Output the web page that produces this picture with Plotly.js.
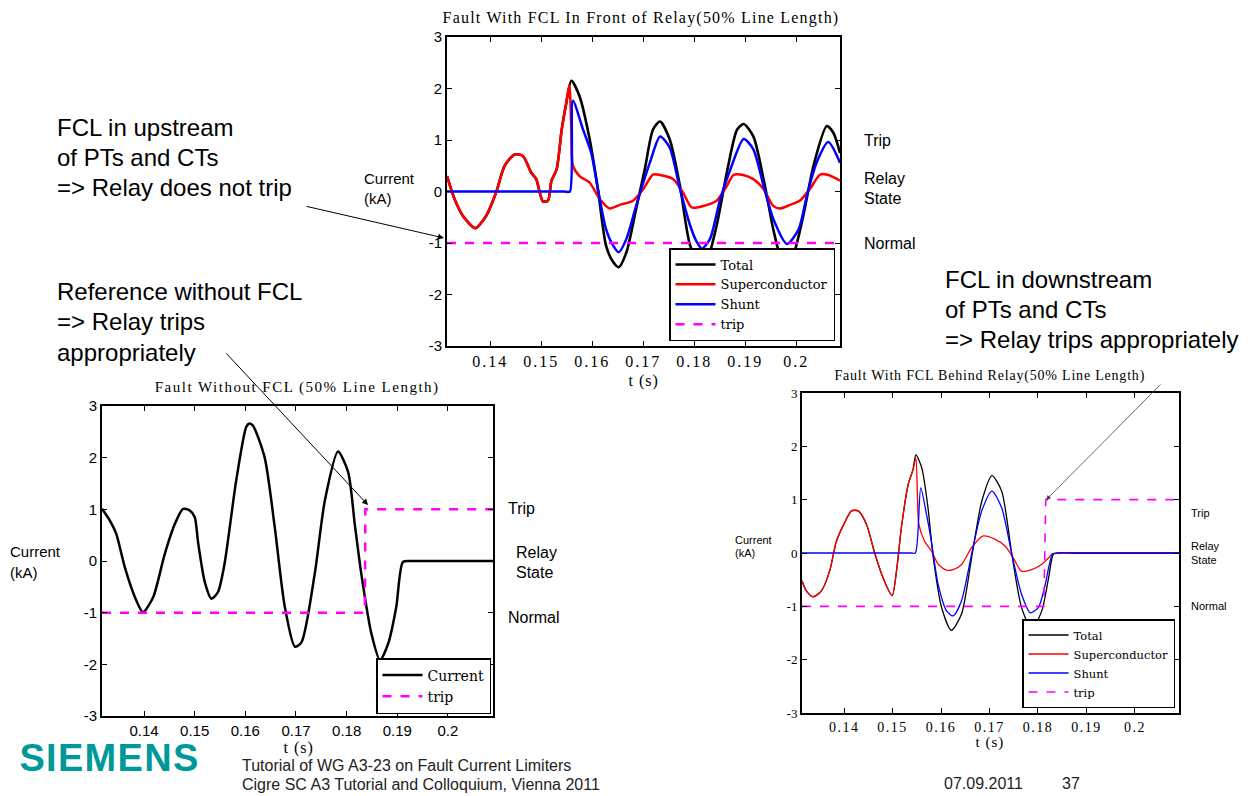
<!DOCTYPE html>
<html>
<head>
<meta charset="utf-8">
<script src="https://cdn.plot.ly/plotly-3.0.1.min.js"></script>
<style>
html,body{margin:0;padding:0;background:#fff;}
#chart{width:1260px;height:796px;}
g.xtick text{letter-spacing:2px;}
g.x3tick text{letter-spacing:1.5px;}
g.annotation[data-index="0"] text{letter-spacing:1.2px;}
g.annotation[data-index="1"] text{letter-spacing:1.5px;}
g.annotation[data-index="2"] text{letter-spacing:0.8px;}
g.annotation[data-index="3"] text, g.annotation[data-index="4"] text, g.annotation[data-index="5"] text{letter-spacing:1px;}
g.annotation[data-index="36"] text{letter-spacing:1.3px;}
</style>
</head>
<body>
<div id="chart"></div>
<script>
// ---------- DATA ----------
// Top chart: Fault With FCL In Front of Relay
const topTotalT = [0.1315,0.1330,0.1346,0.1366,0.1372,0.1392,0.1412,0.1428,0.1448,0.1464,0.1480,0.1490,0.1497,0.1503,0.1513,0.1520,0.1530,0.1540,0.1549,0.1559,0.1575,0.1595,0.1611,0.1627,0.1641,0.1652,0.1667,0.1686,0.1703,0.1719,0.1733,0.1752,0.1772,0.1792,0.1813,0.1824,0.1844,0.1864,0.1884,0.1897,0.1916,0.1936,0.1955,0.1968,0.1978,0.1994,0.2014,0.2034,0.2060,0.2073,0.2086];
const topTotalI = [0.30,-0.15,-0.47,-0.69,-0.71,-0.47,0,0.50,0.72,0.69,0.37,0.24,-0.02,-0.19,-0.18,0.21,0.43,1.20,1.72,2.15,1.85,1.01,0.05,-1.05,-1.37,-1.47,-1.18,-0.34,0.43,1.20,1.36,1.01,0.11,-1.05,-1.45,-1.37,-0.66,0.37,1.20,1.31,1.07,0.24,-0.73,-1.24,-1.43,-1.24,-0.47,0.50,1.27,1.14,0.75];
const topScT = [0.1315,0.1330,0.1346,0.1366,0.1372,0.1392,0.1412,0.1428,0.1448,0.1464,0.1480,0.1490,0.1497,0.1503,0.1513,0.1520,0.1530,0.1540,0.1549,0.1555,0.1559,0.1562,0.1575,0.1595,0.1615,0.1634,0.1654,0.1680,0.1700,0.1719,0.1733,0.1759,0.1778,0.1795,0.1818,0.1844,0.1864,0.1877,0.1896,0.1916,0.1936,0.1955,0.1968,0.1988,0.2007,0.2027,0.2047,0.2063,0.2086];
const topScI = [0.30,-0.15,-0.47,-0.69,-0.71,-0.47,0,0.50,0.72,0.69,0.37,0.24,-0.02,-0.19,-0.18,0.21,0.43,1.20,1.72,2.07,1.20,0.50,0.30,0.17,-0.15,-0.33,-0.26,-0.18,0.05,0.33,0.32,0.24,-0.02,-0.31,-0.28,-0.18,0.11,0.32,0.32,0.24,0.05,-0.28,-0.33,-0.26,-0.18,0.05,0.33,0.32,0.21];
const topShuntT = [0.1315,0.1545,0.1556,0.1562,0.1582,0.1598,0.1611,0.1627,0.1641,0.1652,0.1667,0.1686,0.1700,0.1713,0.1733,0.1752,0.1772,0.1792,0.1805,0.1815,0.1831,0.1851,0.1871,0.1897,0.1916,0.1936,0.1955,0.1982,0.2005,0.2021,0.2040,0.2063,0.2086];
const topShuntI = [0,0,0,1.76,1.20,0.75,0.05,-0.73,-1.05,-1.18,-0.92,-0.28,0.17,0.56,1.07,0.85,0.05,-0.66,-0.98,-1.11,-0.92,-0.15,0.43,1.02,0.82,0.11,-0.53,-1.02,-0.73,-0.08,0.56,0.96,0.56];
const topTripT = [0.1315,0.2086];
const topTripI = [-1,-1];

// Bottom-left chart: Fault Without FCL
const blCurT = [0.1317,0.1332,0.1345,0.1362,0.1382,0.1398,0.1418,0.1441,0.1461,0.1477,0.1490,0.1500,0.1507,0.1520,0.1533,0.1546,0.1559,0.1582,0.1602,0.1608,0.1615,0.1638,0.1658,0.1678,0.1698,0.1711,0.1737,0.1757,0.1783,0.1803,0.1816,0.1829,0.1849,0.1866,0.1882,0.1898,0.1911,0.1925,0.1960,0.2089];
const blCurI = [1.01,0.79,0.53,-0.12,-0.70,-0.99,-0.70,0.14,0.72,1.01,0.98,0.85,0.34,-0.41,-0.73,-0.60,-0.05,1.56,2.60,2.66,2.62,2.01,0.66,-0.89,-1.66,-1.57,-0.25,1.17,2.12,1.72,0.72,-0.25,-1.41,-1.92,-1.60,-0.89,-0.02,0,0,0];
const blTripT = [0.1317,0.1836,0.1837,0.2089];
const blTripI = [-1,-1,1,1];

// Bottom-right chart: Fault With FCL Behind Relay
const brTotalT = [0.1313,0.1322,0.1336,0.1353,0.1370,0.1384,0.1401,0.1415,0.1429,0.1446,0.1463,0.1480,0.1499,0.1508,0.1518,0.1532,0.1542,0.1548,0.1560,0.1573,0.1583,0.1601,0.1621,0.1642,0.1663,0.1684,0.1705,0.1725,0.1746,0.1766,0.1787,0.1808,0.1822,0.1832,0.1842,0.1870,0.2091];
const brTotalI = [-0.52,-0.71,-0.82,-0.71,-0.34,0.22,0.57,0.79,0.79,0.54,0,-0.46,-0.80,-0.34,0.47,1.28,1.56,1.84,1.60,0.85,-0.02,-1.02,-1.45,-1.15,-0.09,0.97,1.45,1.16,-0.02,-1.02,-1.43,-1.08,-0.46,-0.02,0,0,0];
const brScT = [0.1313,0.1322,0.1336,0.1353,0.1370,0.1384,0.1401,0.1415,0.1429,0.1446,0.1463,0.1480,0.1499,0.1508,0.1518,0.1532,0.1542,0.1548,0.1551,0.1554,0.1566,0.1580,0.1594,0.1611,0.1625,0.1642,0.1663,0.1687,0.1711,0.1732,0.1749,0.1766,0.1787,0.1808,0.1822,0.1830,0.1840,0.1870,0.2091];
const brScI = [-0.52,-0.71,-0.82,-0.71,-0.34,0.22,0.57,0.79,0.79,0.54,0,-0.46,-0.80,-0.34,0.47,1.28,1.56,1.78,1.16,0.54,0.22,0.04,-0.21,-0.32,-0.31,-0.22,0.10,0.32,0.26,0.13,-0.09,-0.34,-0.31,-0.21,-0.09,-0.01,0,0,0];
const brShuntT = [0.1313,0.1538,0.1547,0.1558,0.1570,0.1580,0.1594,0.1611,0.1625,0.1642,0.1663,0.1684,0.1705,0.1725,0.1746,0.1766,0.1784,0.1801,0.1815,0.1830,0.1840,0.1870,0.2091];
const brShuntI = [0,0,0,1.22,0.72,0.22,-0.59,-1.08,-1.18,-0.90,-0.02,0.79,1.16,0.85,-0.02,-0.77,-1.12,-1.02,-0.59,-0.02,0,0,0];
const brTripT = [0.1313,0.1812,0.1816,0.2091];
const brTripI = [-1,-1,1,1];

// Tick labels
const xTickVals = [0.14,0.15,0.16,0.17,0.18,0.19,0.2];
const xTickText = ['0.14','0.15','0.16','0.17','0.18','0.19','0.2'];
const yTickVals = [-3,-2,-1,0,1,2,3];
const yTickText = ['-3','-2','-1','0','1','2','3'];

// ---------- LAYOUT HELPERS ----------
const W = 1260, H = 796;
const px = x => x / W;
const py = y => 1 - y / H;
const SERIF = 'Liberation Serif, Times New Roman, serif';
const WSERIF = 'DejaVu Serif, serif';
const SANS = 'Liberation Sans, Arial, sans-serif';

function xAxis(l, r, range, font) {
  return {domain:[px(l), px(r)], range:range, tickvals:xTickVals, ticktext:xTickText,
    showline:true, linecolor:'#000', linewidth:2, mirror:'ticks', ticks:'inside', ticklen:5,
    tickcolor:'#000', showgrid:false, zeroline:false, tickfont:font, fixedrange:true};
}
function yAxis(t, b, font, anchor) {
  return {domain:[py(b), py(t)], range:[-3,3], tickvals:yTickVals, ticktext:yTickText,
    showline:true, linecolor:'#000', linewidth:2, mirror:'ticks', ticks:'inside', ticklen:5,
    tickcolor:'#000', showgrid:false, zeroline:false, tickfont:font, anchor:anchor, fixedrange:true};
}
const SM = 0.7;
function curve(x, y, name, color, width, xa, ya, lg) {
  return {x:x, y:y, name:name, mode:'lines', line:{color:color, width:width, shape:'spline', smoothing:SM},
    xaxis:xa, yaxis:ya, legend:lg};
}
function trip(x, y, width, xa, ya, lg) {
  return {x:x, y:y, name:'trip', mode:'lines', line:{color:'#ff00ff', width:width, dash:'dash'},
    xaxis:xa, yaxis:ya, legend:lg};
}

const traces = [
  curve(topTotalT, topTotalI, 'Total', '#000000', 2.6, 'x', 'y', 'legend'),
  curve(topScT, topScI, 'Superconductor', '#ff0000', 2.5, 'x', 'y', 'legend'),
  curve(topShuntT, topShuntI, 'Shunt', '#0000ff', 2.5, 'x', 'y', 'legend'),
  trip(topTripT, topTripI, 2.5, 'x', 'y', 'legend'),

  curve(blCurT, blCurI, 'Current', '#000000', 2.5, 'x2', 'y2', 'legend2'),
  trip(blTripT, blTripI, 2.5, 'x2', 'y2', 'legend2'),

  curve(brTotalT, brTotalI, 'Total', '#000000', 1.3, 'x3', 'y3', 'legend3'),
  curve(brScT, brScI, 'Superconductor', '#ff0000', 1.3, 'x3', 'y3', 'legend3'),
  curve(brShuntT, brShuntI, 'Shunt', '#0000ff', 1.3, 'x3', 'y3', 'legend3'),
  trip(brTripT, brTripI, 1.6, 'x3', 'y3', 'legend3')
];

function txt(text, x, y, size, opts) {
  opts = opts || {};
  return {text:text, x:px(x), y:py(y), xref:'paper', yref:'paper', showarrow:false,
    xanchor:opts.xanchor || 'left', yanchor:'middle',
    font:{family:opts.family || SANS, size:size, color:opts.color || '#000'}};
}
function arrow(hx, hy, tx, ty, color, width) {
  return {text:'', x:px(hx), y:py(hy), xref:'paper', yref:'paper', showarrow:true,
    ax:tx - hx, ay:ty - hy, axref:'pixel', ayref:'pixel', arrowhead:2, arrowsize:1.2,
    arrowwidth:width, arrowcolor:color, standoff:0, startstandoff:0};
}

const annotations = [
  // titles (indices 0-2)
  txt('Fault With FCL In Front of Relay(50% Line Length)', 641, 18, 16, {xanchor:'center', family:SERIF}),
  txt('Fault Without FCL (50% Line Length)', 297, 387, 15, {xanchor:'center', family:SERIF}),
  txt('Fault With FCL Behind Relay(50% Line Length)', 990, 376, 14, {xanchor:'center', family:SERIF}),
  // x titles (indices 3-5)
  txt('t (s)', 643, 381, 16, {xanchor:'center', family:SERIF}),
  txt('t (s)', 298, 748, 16, {xanchor:'center', family:SERIF}),
  txt('t (s)', 990, 742, 15, {xanchor:'center', family:SERIF}),
  // y titles (6-11)
  txt('Current', 362, 178, 15), txt('(kA)', 362, 198, 15),
  txt('Current', 8, 551, 15), txt('(kA)', 8, 572, 15),
  txt('Current', 733, 540, 11), txt('(kA)', 733, 553, 11),
  // relay state labels (12-23)
  txt('Trip', 862, 141, 16), txt('Relay', 862, 178, 16), txt('State', 862, 198, 16), txt('Normal', 862, 243, 16),
  txt('Trip', 506, 508, 16), txt('Relay', 514, 552, 16), txt('State', 514, 572, 16), txt('Normal', 506, 617, 16),
  txt('Trip', 1189, 513, 11), txt('Relay', 1189, 546, 11), txt('State', 1189, 560, 11), txt('Normal', 1189, 606, 11),
  // explanatory text (24-32)
  txt('FCL in upstream', 55, 127, 24), txt('of PTs and CTs', 55, 157, 24), txt('=> Relay does not trip', 55, 187, 24),
  txt('Reference without FCL', 55, 292, 24), txt('=> Relay trips', 55, 322, 24), txt('appropriately', 55, 352, 24),
  txt('FCL in downstream', 943, 279, 24), txt('of PTs and CTs', 943, 309, 24), txt('=> Relay trips appropriately', 943, 340, 24),
  // arrows (33-35)
  arrow(444, 238, 305, 206, '#000', 1),
  arrow(368, 505, 225, 352, '#000', 1),
  arrow(1046, 500, 1162, 383, '#444', 0.8),
  // footer (36-40)
  txt('<b>SIEMENS</b>', 22, 758, 38, {color:'#009999'}),
  txt('Tutorial of WG A3-23 on Fault Current Limiters', 240, 765, 16, {color:'#222'}),
  txt('Cigre SC A3 Tutorial and Colloquium, Vienna 2011', 240, 784, 16, {color:'#222'}),
  txt('07.09.2011', 942, 783, 16, {color:'#222'}),
  txt('37', 1060, 783, 16, {color:'#222'})
];

const legendBase = {bgcolor:'#ffffff', bordercolor:'#000', borderwidth:1.5, xanchor:'right', yanchor:'bottom',
  itemclick:false, itemdoubleclick:false, tracegroupgap:0, itemwidth:40};

const layout = {
  width:W, height:H, autosize:false,
  margin:{l:0, r:0, t:0, b:0, pad:0},
  paper_bgcolor:'#fff', plot_bgcolor:'#fff',
  showlegend:true,
  xaxis: Object.assign(xAxis(447, 840, [0.1315, 0.2086], {family:SERIF, size:16, color:'#000'}), {anchor:'y'}),
  yaxis: yAxis(37, 346, {family:SANS, size:15, color:'#000'}, 'x'),
  xaxis2: Object.assign(xAxis(102, 493, [0.1317, 0.2089], {family:SANS, size:15, color:'#000'}), {anchor:'y2'}),
  yaxis2: yAxis(406, 716, {family:SANS, size:15, color:'#000'}, 'x2'),
  xaxis3: Object.assign(xAxis(802, 1179, [0.1313, 0.2091], {family:SERIF, size:14, color:'#000'}), {anchor:'y3'}),
  yaxis3: yAxis(393, 713, {family:SERIF, size:13, color:'#000'}, 'x3'),
  legend: Object.assign({}, legendBase, {x:px(835), y:py(341), font:{family:WSERIF, size:13, color:'#000'}}),
  legend2: Object.assign({}, legendBase, {x:px(491), y:py(714), font:{family:WSERIF, size:14, color:'#000'}}),
  legend3: Object.assign({}, legendBase, {x:px(1175), y:py(708), font:{family:WSERIF, size:11.5, color:'#000'}}),
  annotations: annotations
};

Plotly.newPlot('chart', traces, layout, {displayModeBar:false, staticPlot:true});
</script>
</body>
</html>
